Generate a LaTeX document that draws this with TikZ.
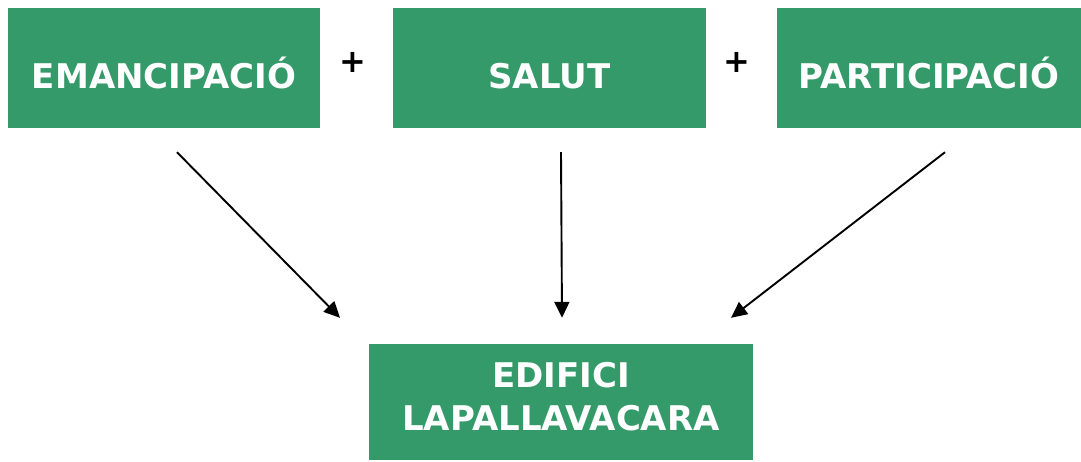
\documentclass[tikz,border=0pt]{standalone}
\usepackage{fontspec}
\setmainfont{DejaVu Sans}
\usepackage{xcolor}
\usetikzlibrary{arrows.meta,positioning,calc}

\definecolor{boxgreen}{RGB}{53,154,105}

\begin{document}
\begin{tikzpicture}[
    x=1pt, y=-1pt,
    topic/.style={fill=boxgreen, text=white, font=\fontsize{34}{43}\selectfont\bfseries, minimum width=312pt, minimum height=120pt, inner sep=0pt, text height=40pt, text depth=0pt},
    result/.style={fill=boxgreen, text=white, font=\fontsize{34}{43}\selectfont\bfseries, minimum width=384pt, minimum height=116pt, inner sep=0pt, align=center, text depth=11pt},
    plus/.style={font=\fontsize{32}{32}\selectfont\bfseries},
    arrow/.style={line width=1.9pt, -{Triangle[length=16pt,width=15pt]}}
]
    \useasboundingbox (0,0) rectangle (1081,461);

    % Top row
    \node[topic] (emancipacio) at (164,68) {EMANCIPACIÓ};
    \node[topic, minimum width=313pt] (salut) at (549.5,68) {SALUT};
    \node[topic, minimum width=304pt] (participacio) at (929,68) {PARTICIPACIÓ};

    % Plus signs
    \node[plus] (plus1) at (353,62) {+};
    \node[plus] (plus2) at (737,62) {+};

    % Result
    \node[result] (edifici) at (561,402) {EDIFICI\\LAPALLAVACARA};

    % Arrow ends
    \coordinate (e-start) at ($(emancipacio.south)+(13,24)$);
    \coordinate (s-start) at ($(salut.south)+(11.5,24)$);
    \coordinate (p-start) at ($(participacio.south)+(16,24)$);
    \coordinate (e-end) at ($(edifici.north)+(-221,-26)$);
    \coordinate (s-end) at ($(edifici.north)+(1,-26)$);
    \coordinate (p-end) at ($(edifici.north)+(170,-26)$);

    % Connections
    \draw[arrow] (e-start) -- (e-end);
    \draw[arrow] (s-start) -- (s-end);
    \draw[arrow] (p-start) -- (p-end);
\end{tikzpicture}
\end{document}
